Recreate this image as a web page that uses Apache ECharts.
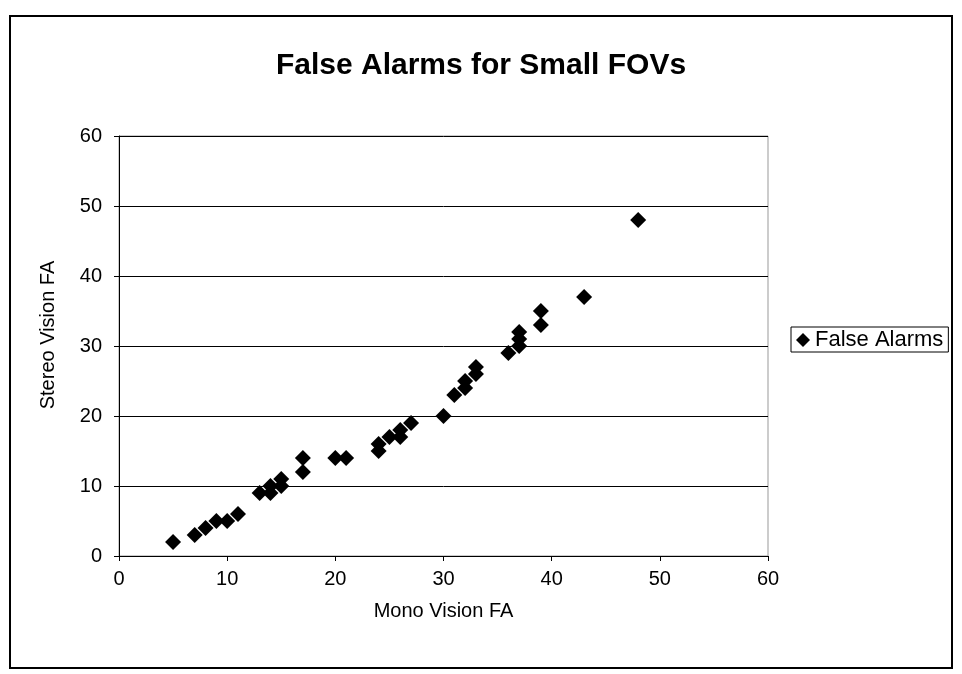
<!DOCTYPE html>
<html>
<head>
<meta charset="utf-8">
<script src="https://cdn.jsdelivr.net/npm/echarts@6/dist/echarts.min.js"></script>
<style>
  html, body { margin: 0; padding: 0; background: #fff; }
  #chart { width: 962px; height: 674px; }
</style>
</head>
<body>
<div id="chart"></div>
<script>
// False alarm counts: mono vision (x) vs stereo vision (y)
const monoFA   = [5, 7, 8, 9, 10, 11, 13, 14, 14, 15, 15, 17, 17, 20, 21, 24, 24, 25, 26, 26, 27, 30, 31, 32, 32, 33, 33, 36, 37, 37, 37, 39, 39, 43, 48];
const stereoFA = [2, 3, 4, 5, 5, 6, 9, 9, 10, 10, 11, 12, 14, 14, 14, 15, 16, 17, 17, 18, 19, 20, 23, 24, 25, 26, 27, 29, 30, 31, 32, 33, 35, 37, 48];

const seriesName = 'False Alarms';
const titleText = 'False Alarms for Small FOVs';
const xName = 'Mono Vision FA';
const yName = 'Stereo Vision FA';

const points = monoFA.map((x, i) => [x, stereoFA[i]]);
const font = '"Liberation Sans", Arial, sans-serif';

const chart = echarts.init(document.getElementById('chart'), null, { renderer: 'canvas' });
chart.setOption({
  backgroundColor: '#ffffff',
  animation: false,
  textStyle: { fontFamily: font, color: '#000' },
  title: {
    text: titleText,
    left: 'center',
    top: 46,
    textStyle: { fontFamily: font, fontSize: 30, fontWeight: 'bold', color: '#000' }
  },
  graphic: [{
    type: 'rect',
    shape: { x: 10, y: 16, width: 942, height: 652 },
    style: { fill: 'none', stroke: '#000', lineWidth: 2 },
    silent: true
  }],
  legend: {
    data: [{ name: seriesName, icon: 'diamond' }],
    left: 791,
    top: 327,
    orient: 'vertical',
    itemWidth: 14,
    itemHeight: 14,
    itemGap: 4,
    padding: [2, 5, 1, 5],
    borderColor: '#000',
    borderWidth: 1,
    textStyle: { fontFamily: font, fontSize: 22, color: '#000', padding: [0, 0, 0, 0] }
  },
  grid: {
    left: 119, right: 194, top: 136, bottom: 118,
    show: true,
    borderColor: '#999',
    borderWidth: 1
  },
  xAxis: {
    type: 'value',
    min: 0, max: 60, interval: 10,
    name: xName,
    nameLocation: 'middle',
    nameGap: 45,
    nameTextStyle: { fontFamily: font, fontSize: 20, color: '#000' },
    axisLine: { show: true, lineStyle: { color: '#000', width: 1 } },
    axisTick: { show: true, inside: false, length: 5, lineStyle: { color: '#000' } },
    axisLabel: { fontFamily: font, fontSize: 20, color: '#000', margin: 13 },
    splitLine: { show: false }
  },
  yAxis: {
    type: 'value',
    min: 0, max: 60, interval: 10,
    name: yName,
    nameLocation: 'middle',
    nameGap: 61,
    nameTextStyle: { fontFamily: font, fontSize: 20, color: '#000', padding: [0, 0, 0, 22] },
    axisLine: { show: true, lineStyle: { color: '#000', width: 1 } },
    axisTick: { show: true, inside: false, length: 5, lineStyle: { color: '#000' } },
    axisLabel: { fontFamily: font, fontSize: 20, color: '#000', margin: 17 },
    splitLine: { show: true, lineStyle: { color: '#000', width: 1 } }
  },
  series: [{
    name: seriesName,
    type: 'scatter',
    symbol: 'diamond',
    symbolSize: 16,
    itemStyle: { color: '#000', opacity: 1 },
    data: points
  }]
});
</script>
</body>
</html>
